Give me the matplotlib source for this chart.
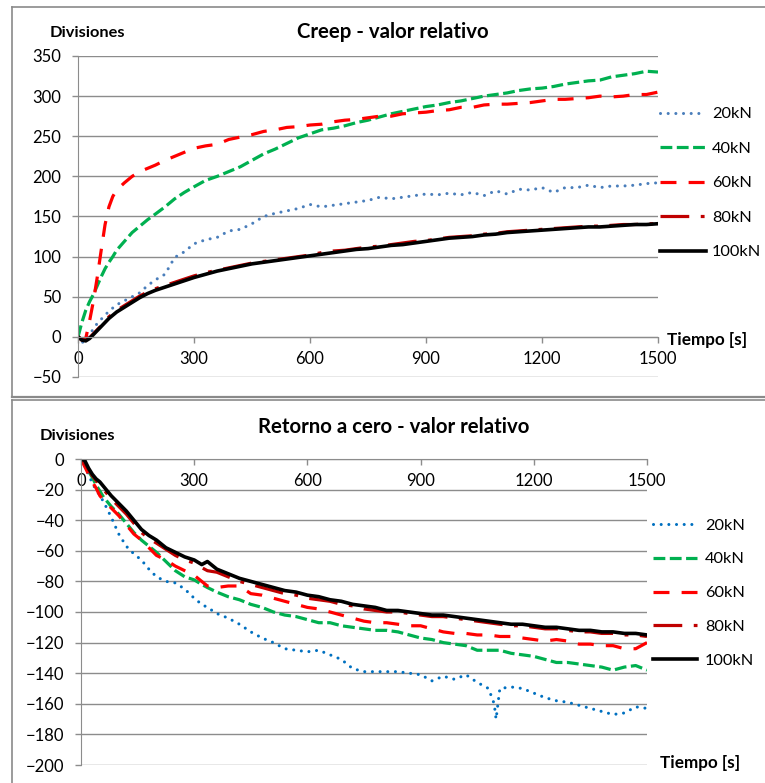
import matplotlib.pyplot as plt
from matplotlib.lines import Line2D

plt.rcParams['font.family'] = ['Lato', 'DejaVu Sans']

# ---- datos: Creep - valor relativo ----
t_creep = [0, 10, 20, 30, 40, 50, 60, 70, 80, 90, 100, 120, 140, 160, 180, 200, 225, 250, 275, 300,
           330, 360, 390, 420, 450, 480, 510, 540, 570, 600, 630, 660, 690, 720, 750, 780, 810, 840,
           870, 900, 930, 960, 990, 1020, 1050, 1080, 1110, 1140, 1170, 1200, 1230, 1260, 1290, 1320,
           1350, 1380, 1410, 1440, 1470, 1500]
creep_20 = [0, -7, -5, 3, 10, 17, 22, 27, 32, 36, 40, 45, 50, 55, 64, 71, 78, 99, 106, 116,
            121, 124, 132, 134, 141, 150, 154, 157, 160, 165, 162, 164, 166, 168, 170, 174, 172, 174,
            176, 178, 177, 179, 177, 180, 176, 182, 178, 184, 183, 186, 180, 186, 186, 189,
            186, 188, 188, 189, 191, 192]
creep_40 = [0, 18, 33, 44, 53, 64, 75, 85, 93, 100, 108, 119, 130, 138, 146, 153, 162, 172, 180, 187,
            195, 200, 206, 212, 220, 228, 234, 241, 248, 253, 258, 260, 263, 267, 270, 274, 278, 281,
            284, 287, 289, 292, 294, 297, 300, 302, 304, 307, 309, 310, 312, 315, 317, 319,
            320, 324, 326, 328, 331, 330]
creep_60 = [0, -4, -2, 20, 45, 75, 108, 140, 162, 175, 183, 192, 200, 206, 210, 214, 220, 225, 230, 235,
            238, 240, 246, 249, 252, 256, 258, 261, 262, 264, 265, 268, 270, 271, 273, 275, 275, 278,
            279, 280, 282, 283, 286, 286, 289, 290, 290, 291, 292, 294, 296, 296, 297, 298,
            300, 299, 300, 302, 302, 305]
creep_80 = [0, -3, -4, -1, 4, 9, 14, 20, 25, 29, 33, 39, 45, 51, 56, 60, 64, 68, 72, 76,
            80, 83, 86, 89, 92, 94, 96, 98, 100, 102, 105, 107, 108, 110, 112, 113, 115, 117,
            119, 120, 122, 124, 125, 126, 128, 129, 131, 132, 133, 134, 135, 136, 137, 138,
            138, 139, 140, 140, 141, 141]
creep_100 = [0, -4, -5, -2, 3, 8, 13, 18, 23, 27, 31, 37, 43, 49, 54, 58, 62, 66, 70, 74,
             78, 82, 85, 88, 91, 93, 95, 97, 99, 101, 103, 105, 107, 109, 110, 112, 114, 115,
             117, 119, 121, 123, 124, 125, 127, 128, 130, 131, 132, 133, 134, 135, 136, 137,
             137, 138, 139, 140, 140, 141]

# ---- datos: Retorno a cero - valor relativo ----
t_ret = [0, 10, 20, 30, 40, 50, 60, 80, 100, 120, 140, 160, 180, 200, 225, 250, 275, 300, 320, 335,
         360, 390, 420, 450, 480, 510, 540, 570, 600, 630, 660, 690, 720, 750, 780, 810, 840, 870,
         900, 930, 960, 990, 1020, 1050, 1080, 1110, 1140, 1170, 1200, 1230, 1260, 1290, 1320, 1350,
         1380, 1410, 1440, 1470, 1500]
ret_40 = [0, -3, -8, -12, -17, -21, -25, -31, -36, -42, -48, -53, -57, -61, -67, -73, -77, -79, -82, -84,
          -87, -90, -92, -95, -97, -100, -102, -103, -105, -107, -107, -109, -110, -111, -112, -112, -113, -115,
          -117, -118, -120, -121, -122, -125, -125, -125, -127, -128, -129, -131, -133, -133, -134, -135,
          -136, -138, -136, -135, -138]
ret_60 = [0, -5, -10, -15, -19, -24, -27, -32, -37, -43, -49, -53, -58, -63, -66, -70, -73, -76, -80, -83,
          -84, -83, -83, -88, -89, -91, -93, -95, -97, -98, -100, -102, -104, -106, -107, -107, -108, -109,
          -109, -111, -113, -114, -114, -115, -115, -116, -116, -117, -118, -119, -118, -119, -121, -121,
          -122, -122, -124, -124, -120]
ret_80 = [0, -3, -7, -11, -14, -17, -20, -26, -31, -36, -42, -48, -52, -55, -59, -63, -66, -68, -71, -73,
          -74, -77, -80, -82, -84, -86, -88, -89, -91, -92, -93, -95, -96, -98, -99, -100, -100, -101,
          -102, -103, -103, -104, -105, -106, -107, -108, -109, -109, -110, -111, -111, -112, -113, -113,
          -114, -114, -115, -115, -116]
ret_100 = [0, -1, -6, -10, -13, -15, -18, -24, -29, -34, -40, -46, -50, -53, -58, -61, -64, -66, -69, -67,
           -72, -75, -78, -80, -82, -84, -86, -87, -89, -90, -92, -93, -95, -96, -97, -99, -99, -100,
           -101, -102, -102, -103, -104, -105, -106, -107, -108, -108, -109, -110, -110, -111, -112, -112,
           -113, -113, -114, -114, -115]
t_ret_20 = [0, 10, 20, 30, 40, 50, 60, 80, 100, 120, 140, 160, 180, 200, 225, 250, 275, 300, 320, 335,
            360, 390, 420, 450, 480, 510, 540, 570, 600, 630, 660, 690, 720, 750, 780, 810, 840, 870,
            900, 930, 960, 990, 1020, 1050, 1080, 1095, 1100, 1105, 1110, 1140, 1170, 1200, 1230, 1260,
            1290, 1320, 1350, 1380, 1410, 1440, 1470, 1500]
ret_20 = [0, -5, -10, -16, -20, -24, -28, -38, -49, -57, -62, -66, -72, -77, -80, -81, -85, -91, -95, -97,
          -101, -104, -108, -113, -117, -120, -124, -125, -126, -125, -128, -131, -137, -139, -139, -139, -139, -140,
          -141, -145, -142, -144, -141, -146, -150, -160, -170, -160, -150, -149, -150, -153, -156, -158,
          -159, -161, -163, -165, -167, -166, -162, -163]

labels = ['20kN', '40kN', '60kN', '80kN', '100kN']

GRID = '#8c8c8c'

fig = plt.figure(figsize=(7.65, 7.83), dpi=100)

# marcos de los graficos (estilo Excel)
fig.add_artist(Line2D([12/765, 12/765], [1 - 7/783, 1 - 397/783], color='#8a8a8a', lw=1.2))
fig.add_artist(Line2D([12/765, 1.0], [1 - 7/783, 1 - 7/783], color='#8a8a8a', lw=1.2))
fig.add_artist(Line2D([12/765, 1.0], [1 - 397/783, 1 - 397/783], color='#8a8a8a', lw=1.6))
fig.add_artist(Line2D([12/765, 1.0], [1 - 399.5/783, 1 - 399.5/783], color='#8a8a8a', lw=1.2))
fig.add_artist(Line2D([12/765, 12/765], [1 - 399.5/783, 0], color='#8a8a8a', lw=1.2))


def style_axes(ax, yticks):
    ax.set_yticks(yticks)
    ax.set_xticks([0, 300, 600, 900, 1200, 1500])
    for s in ['top', 'right']:
        ax.spines[s].set_visible(False)
    ax.spines['left'].set_color(GRID)
    ax.spines['bottom'].set_color(GRID)
    ax.spines['bottom'].set_position(('data', 0))
    ax.yaxis.grid(True, color=GRID, lw=1.0)
    ax.set_axisbelow(True)
    ax.tick_params(axis='both', colors=GRID, length=4.5, width=1.0, labelsize=12, labelcolor='black')
    ax.tick_params(axis='y', pad=7.5)
    ax.tick_params(axis='x', pad=5.5)


def draw_series(ax, ts, series, blue):
    ax.plot(ts[0], series[0], color=blue, lw=2.2, linestyle=(0, (0.01, 2.5)),
            dash_capstyle='round', label=labels[0])
    ax.plot(ts[1], series[1], color='#00b050', lw=2.3, linestyle=(0, (3.7, 1.4)), label=labels[1])
    ax.plot(ts[2], series[2], color='#ff0000', lw=2.3, linestyle=(0, (5.0, 3.8)), label=labels[2])
    ax.plot(ts[3], series[3], color='#c00000', lw=2.3, linestyle=(0, (9, 3.6, 1.2, 3.6)), label=labels[3])
    ax.plot(ts[4], series[4], color='black', lw=2.6, label=labels[4])


# ---- grafico superior ----
ax1 = fig.add_axes([78/765, 1 - 377/783, 580/765, 321/783])
draw_series(ax1, [t_creep] * 5, [creep_20, creep_40, creep_60, creep_80, creep_100], '#4a7ebb')
ax1.set_xlim(0, 1500)
ax1.set_ylim(-50, 350)
style_axes(ax1, range(-50, 351, 50))
ax1.text(0.543, 1.075, 'Creep - valor relativo', transform=ax1.transAxes, ha='center', va='center',
         fontsize=14.7, fontweight='bold')
ax1.text(0.016, 1.072, 'Divisiones', transform=ax1.transAxes, ha='center', va='center',
         fontsize=11.8, fontweight='bold')
ax1.text(1.0155, 0.115, 'Tiempo [s]', transform=ax1.transAxes, ha='left', va='center',
         fontsize=12.3, fontweight='bold')
ax1.legend(loc='center left', bbox_to_anchor=(1.003, 0.604), frameon=False, fontsize=11.8,
           handlelength=2.8, handletextpad=0.4, labelspacing=1.22, borderpad=0, borderaxespad=0)

# ---- grafico inferior ----
ax2 = fig.add_axes([81/765, 1 - 765/783, 566/765, 306/783])
draw_series(ax2, [t_ret_20, t_ret, t_ret, t_ret, t_ret], [ret_20, ret_40, ret_60, ret_80, ret_100], '#0070c0')
ax2.set_xlim(0, 1500)
ax2.set_ylim(-200, 0)
style_axes(ax2, range(-200, 1, 20))
ax2.text(0.553, 1.105, 'Retorno a cero - valor relativo', transform=ax2.transAxes, ha='center',
         va='center', fontsize=14.7, fontweight='bold')
ax2.text(-0.006, 1.075, 'Divisiones', transform=ax2.transAxes, ha='center', va='center',
         fontsize=11.8, fontweight='bold')
ax2.text(1.023, 0.0065, 'Tiempo [s]', transform=ax2.transAxes, ha='left', va='center',
         fontsize=12.3, fontweight='bold')
ax2.legend(loc='center left', bbox_to_anchor=(1.011, 0.562), frameon=False, fontsize=11.8,
           handlelength=2.7, handletextpad=0.45, labelspacing=1.18, borderpad=0, borderaxespad=0)

fig.savefig('out.png', dpi=100)
